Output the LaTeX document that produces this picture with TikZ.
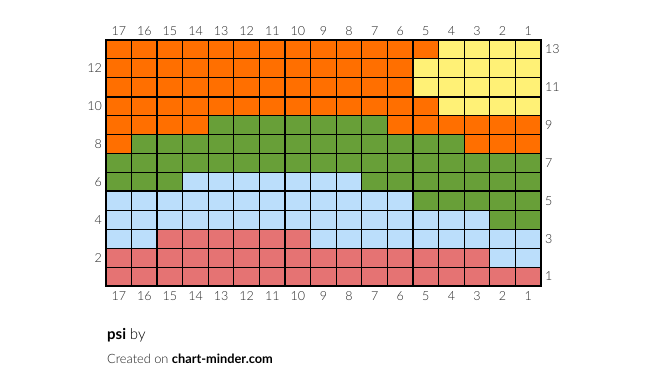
\documentclass[tikz,border=0pt]{standalone}
\usepackage{fontspec}
\setmainfont{Lato}
\newfontfamily\latolight{Lato Light}
\definecolor{cO}{HTML}{FF6F00}
\definecolor{cY}{HTML}{FFF176}
\definecolor{cG}{HTML}{689F38}
\definecolor{cB}{HTML}{BBDEFB}
\definecolor{cR}{HTML}{E57373}
\definecolor{numgray}{HTML}{262626}
\definecolor{txtgray}{HTML}{1A1A1A}
\tikzset{
  numlabel/.style={font=\latolight\fontsize{12.5}{14}\selectfont, text=numgray, inner sep=0pt},
  thinline/.style={line width=1.1pt, black},
  thickline/.style={line width=2.2pt, black},
}
\begin{document}
\begin{tikzpicture}[x=1pt,y=-1pt]
\useasboundingbox (0,0) rectangle (647,389);
\def\gx{106}\def\gy{40}\def\cw{25.588}\def\ch{18.923}
\foreach \r/\l in {
13/{O,O,O,O,O,O,O,O,O,O,O,O,O,Y,Y,Y,Y},
12/{O,O,O,O,O,O,O,O,O,O,O,O,Y,Y,Y,Y,Y},
11/{O,O,O,O,O,O,O,O,O,O,O,O,Y,Y,Y,Y,Y},
10/{O,O,O,O,O,O,O,O,O,O,O,O,O,Y,Y,Y,Y},
9/{O,O,O,O,G,G,G,G,G,G,G,O,O,O,O,O,O},
8/{O,G,G,G,G,G,G,G,G,G,G,G,G,G,O,O,O},
7/{G,G,G,G,G,G,G,G,G,G,G,G,G,G,G,G,G},
6/{G,G,G,B,B,B,B,B,B,B,G,G,G,G,G,G,G},
5/{B,B,B,B,B,B,B,B,B,B,B,B,G,G,G,G,G},
4/{B,B,B,B,B,B,B,B,B,B,B,B,B,B,B,G,G},
3/{B,B,R,R,R,R,R,R,B,B,B,B,B,B,B,B,B},
2/{R,R,R,R,R,R,R,R,R,R,R,R,R,R,R,B,B},
1/{R,R,R,R,R,R,R,R,R,R,R,R,R,R,R,R,R}}{
  \foreach \c [count=\i] in \l {
    \fill[c\c] ({\gx+(\i-1)*\cw},{\gy+(13-\r)*\ch}) rectangle ++(\cw,\ch);
  }
}
% thin grid lines
\foreach \i in {1,3,4,5,6,8,9,10,11,13,14,15,16} {
  \draw[thinline] ({\gx+\i*\cw},\gy) -- ++(0,246);
}
\foreach \j in {1,2,4,5,6,7,9,10,11,12} {
  \draw[thinline] (\gx,{\gy+\j*\ch}) -- ++(435,0);
}
% thick lines
\foreach \i in {2,7,12} {
  \draw[thickline] ({\gx+\i*\cw},\gy) -- ++(0,246);
}
\foreach \j in {3,8} {
  \draw[thickline] (\gx,{\gy+\j*\ch}) -- ++(435,0);
}
\draw[line width=2.6pt] (\gx,\gy) rectangle ++(435,246);
% column labels
\foreach \i in {1,...,17} {
  \pgfmathtruncatemacro{\n}{18-\i}
  \node[numlabel] (top\n) at ({\gx+(\i-0.5)*\cw},31) {\n};
  \node[numlabel] (bot\n) at ({\gx+(\i-0.5)*\cw},296) {\n};
}
% row labels
\foreach \r in {12,10,8,6,4,2} {
  \node[numlabel, anchor=east] (rowl\r) at (102,{\gy+(13-\r+0.5)*\ch}) {\r};
}
\foreach \r in {13,11,9,7,5,3,1} {
  \node[numlabel, anchor=west] (rowr\r) at (545,{\gy+(13-\r+0.5)*\ch}) {\r};
}
\node[anchor=base west, inner sep=0pt, font=\fontsize{15}{17}\selectfont, text=black] (title) at (107,339) {\textbf{psi} \latolight by};
\node[anchor=base west, inner sep=0pt, font=\fontsize{12.8}{15}\selectfont, text=txtgray] (credit) at (107,363) {\latolight Created on \textcolor{black}{\normalfont\textbf{chart-minder.com}}};
\end{tikzpicture}
\end{document}
